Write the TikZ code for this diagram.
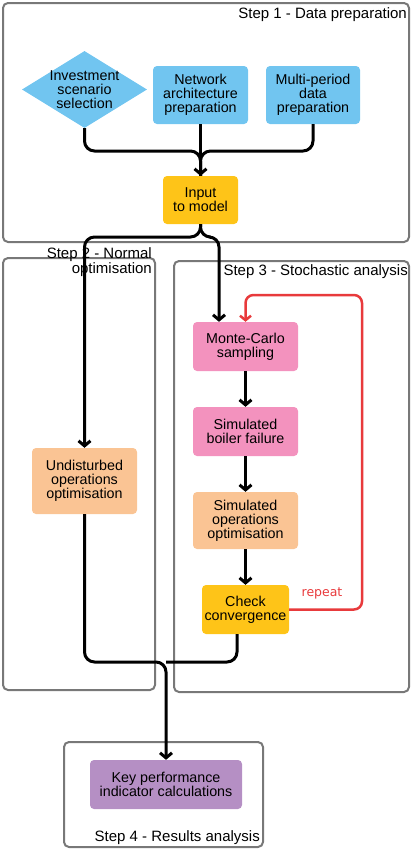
\documentclass[tikz,border=0pt]{standalone}
\usepackage{fontspec}
\setmainfont{Liberation Sans}
\newfontfamily\repfont{DejaVu Sans}
\usetikzlibrary{arrows.meta,shapes.geometric}
\definecolor{dblue}{RGB}{113,197,240}
\definecolor{dpink}{RGB}{243,146,190}
\definecolor{dorange}{RGB}{250,196,148}
\definecolor{dyellow}{RGB}{254,196,24}
\definecolor{dpurple}{RGB}{181,143,196}
\definecolor{dred}{RGB}{232,58,60}
\definecolor{dgray}{RGB}{120,120,120}
\tikzset{
  stage/.style={draw=dgray,line width=2pt,rounded corners=5pt},
  steptitle/.style={inner sep=1pt,align=right,font=\fontsize{15}{14.5}\selectfont},
  box/.style={rounded corners=4pt,align=center,inner sep=0pt,minimum height=49pt,
    minimum width=105pt,font=\fontsize{14.3}{14}\selectfont},
  flow/.style={line width=3pt,rounded corners=10pt},
  tip/.style={-{Straight Barb[length=5pt,width=12pt]}},
  loopback/.style={draw=dred,line width=2.5pt,rounded corners=8pt,
    -{Straight Barb[length=4.5pt,width=11pt]}}
}
\begin{document}
\begin{tikzpicture}[x=1pt,y=-1pt]
\useasboundingbox (0,0) rectangle (410,849);
% the four stages
\draw[stage] (3,3) rectangle (409,242);
\draw[stage] (3,258) rectangle (155,690);
\draw[stage] (174,261) rectangle (409,692);
\draw[stage] (64,742) rectangle (263,847);
\node[steptitle,anchor=base east] (t1) at (408,18) {Step 1 - Data preparation};
\node[steptitle,anchor=base east] (t2) at (153,273) {Step 2 - Normal\\optimisation};
\node[steptitle,anchor=base east] (t3) at (409,275) {Step 3 - Stochastic analysis};
\node[steptitle,anchor=base east] (t4) at (261,841) {Step 4 - Results analysis};

% step 1
\node[diamond,fill=dblue,inner sep=0pt,minimum width=125pt,minimum height=77pt] (inv) at (84.5,89.5) {};
\node[box,minimum width=0pt,minimum height=0pt] (invtxt) at (inv) {Investment\\scenario\\selection};
\node[box,fill=dblue,minimum width=95pt,minimum height=58pt] (net) at (200.5,95) {Network\\architecture\\preparation};
\node[box,fill=dblue,minimum width=94pt,minimum height=58pt] (mp) at (313,95) {Multi-period\\data\\preparation};
\node[box,fill=dyellow,minimum width=75pt,minimum height=48pt] (input) at (200.5,200) {Input\\to model};

% step 2 and 3
\node[box,fill=dorange,minimum height=66pt] (undist) at (84.5,481) {Undisturbed\\operations\\optimisation};
\node[box,fill=dpink] (mc) at (245.5,346.5) {Monte-Carlo\\sampling};
\node[box,fill=dpink] (boiler) at (245.5,431.5) {Simulated\\boiler failure};
\node[box,fill=dorange,minimum height=57pt] (simop) at (245.5,520.5) {Simulated\\operations\\optimisation};
\node[box,fill=dyellow,minimum width=87pt] (check) at (245.5,609.5) {Check\\convergence};

% step 4
\node[box,fill=dpurple,minimum width=152pt] (kpi) at (166,784.5) {Key performance\\indicator calculations};

\coordinate (j1) at (200.5,151);
\coordinate (j2) at (200.5,237);
\coordinate (j3) at (166,662);
\coordinate (rpt) at (362,295);

\draw[flow] (inv.south) |- (j1) -- (input.north);
\draw[flow] (mp.south) |- (j1) -- (input.north);
\draw[flow,tip] (net.south) -- (input.north);
\draw[flow,tip] (input.south) -- (j2) -| (undist.north);
\draw[flow,tip] (input.south) -- (j2) -| ([xshift=-26.5pt]mc.north);
\draw[flow,tip] (mc) -- (boiler);
\draw[flow,tip] (boiler) -- (simop);
\draw[flow,tip] (simop) -- (check);
\draw[loopback] (check.east) -| (rpt) -| (mc.north);
\node[text=dred,font=\repfont\fontsize{12.5}{14}\selectfont] (rep) at (322,593) {repeat};
\draw[flow] ([xshift=-8.5pt]check.south) |- (j3);
\draw[flow,tip] (undist.south) |- (j3) -- (kpi.north);
\end{tikzpicture}
\end{document}
